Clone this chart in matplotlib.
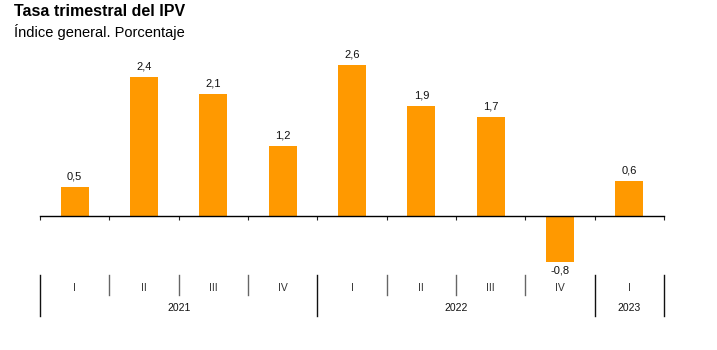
import numpy as np
import matplotlib.pyplot as plt
import matplotlib.transforms as mtransforms

plt.rcParams['font.family'] = ['Liberation Sans', 'DejaVu Sans']

# Datos
trimestres = ['I', 'II', 'III', 'IV', 'I', 'II', 'III', 'IV', 'I']
anios = ['2021', '2022', '2023']
trim_por_anio = [4, 4, 1]
valores = [0.5, 2.4, 2.1, 1.2, 2.6, 1.9, 1.7, -0.8, 0.6]

naranja = '#ff9900'

fig = plt.figure(figsize=(7.17, 3.5), dpi=100)
ax = fig.add_axes([40 / 717, 80 / 350, 624 / 717, 230 / 350])

x = np.arange(len(valores))
ax.bar(x, valores, width=0.4, color=naranja, zorder=2)

ax.set_xlim(-0.5, len(valores) - 0.5)
ax.set_ylim(-0.93, 3.03)

for s in ['top', 'right', 'left']:
    ax.spines[s].set_visible(False)
ax.spines['bottom'].set_position(('data', 0))
ax.spines['bottom'].set_linewidth(1.0)
ax.set_yticks([])
ax.set_xticks(np.arange(-0.5, len(valores), 1.0))
ax.set_xticklabels([])
ax.tick_params(axis='x', direction='out', length=3, width=0.8, color='#222222')

# Etiquetas de valor
for xi, v in zip(x, valores):
    txt = f'{v:.1f}'.replace('.', ',')
    if v >= 0:
        ax.annotate(txt, (xi, v), xytext=(0, 4), textcoords='offset points',
                    ha='center', va='bottom', fontsize=8, color='#111111')
    else:
        ax.annotate(txt, (xi, v), xytext=(0, -2), textcoords='offset points',
                    ha='center', va='top', fontsize=8, color='#111111')

# Eje de categorias inferior
tr = mtransforms.blended_transform_factory(ax.transData, fig.transFigure)

def fy(py):
    return 1 - py / 350

for xi, t in zip(x, trimestres):
    ax.text(xi, fy(288), t, transform=tr, ha='center', va='center',
            fontsize=7.5, color='#333333')

# separadores de trimestre
limites_anio = np.cumsum([0] + trim_por_anio) - 0.5
for b in np.arange(-0.5, len(valores), 1.0):
    if b in limites_anio:
        ax.plot([b, b], [fy(275), fy(316)], transform=tr, color='#111111',
                lw=1.0, clip_on=False)
    else:
        ax.plot([b, b], [fy(275), fy(295)], transform=tr, color='#666666',
                lw=1.0, clip_on=False)

for i, a in enumerate(anios):
    centro = (limites_anio[i] + limites_anio[i + 1]) / 2
    ax.text(centro, fy(308), a, transform=tr, ha='center', va='center',
            fontsize=7.5, color='#111111')

fig.text(14 / 717, fy(12), 'Tasa trimestral del IPV', fontsize=11.5,
         fontweight='bold', ha='left', va='center')
fig.text(14 / 717, fy(32), 'Índice general. Porcentaje', fontsize=10.5,
         ha='left', va='center')

fig.savefig('out.png', dpi=100)
